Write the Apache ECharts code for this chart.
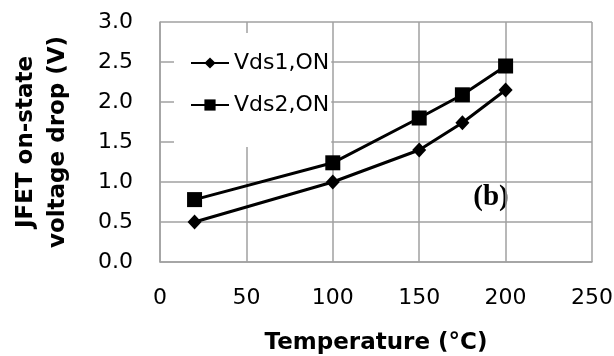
<!DOCTYPE html>
<html><head><meta charset="utf-8">
<script src="https://cdn.jsdelivr.net/npm/echarts@6/dist/echarts.min.js"></script>
<style>html,body{margin:0;padding:0;background:#fff}#c{width:614px;height:356px}</style>
</head><body><div id="c"></div>
<script>
var temps = [20, 100, 150, 175, 200];
var vds1 = [0.5, 1.0, 1.4, 1.74, 2.15];
var vds2 = [0.78, 1.24, 1.8, 2.09, 2.45];
var seriesNames = ['Vds1,ON', 'Vds2,ON'];
var xTicks = [0, 50, 100, 150, 200, 250];
var yTicks = [0, 0.5, 1.0, 1.5, 2.0, 2.5, 3.0];
var panelLabel = '(b)';

var chart = echarts.init(document.getElementById('c'));
var font = 'DejaVu Sans';
chart.setOption({
  animation: false,
  grid: {left: 160, right: 22, top: 22, bottom: 94, containLabel: false, outerBoundsMode: 'none'},
  xAxis: {
    type: 'value', min: 0, max: 250, interval: 50,
    name: 'Temperature (°C)', nameLocation: 'middle', nameGap: 70,
    nameTextStyle: {fontFamily: font, fontWeight: 'bold', fontSize: 23, color: '#000'},
    axisLine: {show: true, lineStyle: {color: '#a0a0a0', width: 1.5}},
    axisTick: {show: false},
    splitLine: {show: true, lineStyle: {color: '#a0a0a0', width: 1.5}},
    axisLabel: {fontFamily: font, fontSize: 22, color: '#000', margin: 25,
      formatter: function(v){ return xTicks.indexOf(v) >= 0 ? String(v) : ''; }}
  },
  yAxis: {
    type: 'value', min: 0, max: 3, interval: 0.5,
    name: 'JFET on-state\nvoltage drop (V)', nameLocation: 'middle', nameGap: 86,
    nameRotate: 90,
    nameTextStyle: {fontFamily: font, fontWeight: 'bold', fontSize: 23, color: '#000', lineHeight: 32},
    axisLine: {show: true, lineStyle: {color: '#a0a0a0', width: 1.5}},
    axisTick: {show: false},
    splitLine: {show: true, lineStyle: {color: '#a0a0a0', width: 1.5}},
    axisLabel: {fontFamily: font, fontSize: 22, color: '#000', margin: 27,
      formatter: function(v){ var i = yTicks.indexOf(v); return i >= 0 ? yTicks[i].toFixed(1) : ''; }}
  },
  legend: {
    orient: 'vertical', left: 174, top: 33,
    backgroundColor: '#fff', padding: [19, 2, 31, 16],
    itemWidth: 38, itemHeight: 14, itemGap: 20,
    textStyle: {fontFamily: font, fontSize: 22, color: '#000', lineHeight: 20},
    data: seriesNames
  },
  graphic: [{
    type: 'group', left: 452, top: 167, z: 100,
    children: [
      {type: 'rect', shape: {x: 0, y: 0, width: 94, height: 55}, style: {fill: '#fff'}},
      {type: 'text', x: 39, y: 31, style: {text: panelLabel, font: 'bold 29px "Liberation Serif"', fill: '#000', align: 'center', verticalAlign: 'middle'}}
    ]
  }],
  series: [
    {name: seriesNames[0], type: 'line', symbol: 'diamond', symbolSize: [14, 15],
     lineStyle: {color: '#000', width: 3}, itemStyle: {color: '#000'},
     data: temps.map(function(t, i){ return [t, vds1[i]]; })},
    {name: seriesNames[1], type: 'line', symbol: 'rect', symbolSize: 15,
     lineStyle: {color: '#000', width: 3}, itemStyle: {color: '#000'},
     data: temps.map(function(t, i){ return [t, vds2[i]]; })}
  ]
});
</script></body></html>
